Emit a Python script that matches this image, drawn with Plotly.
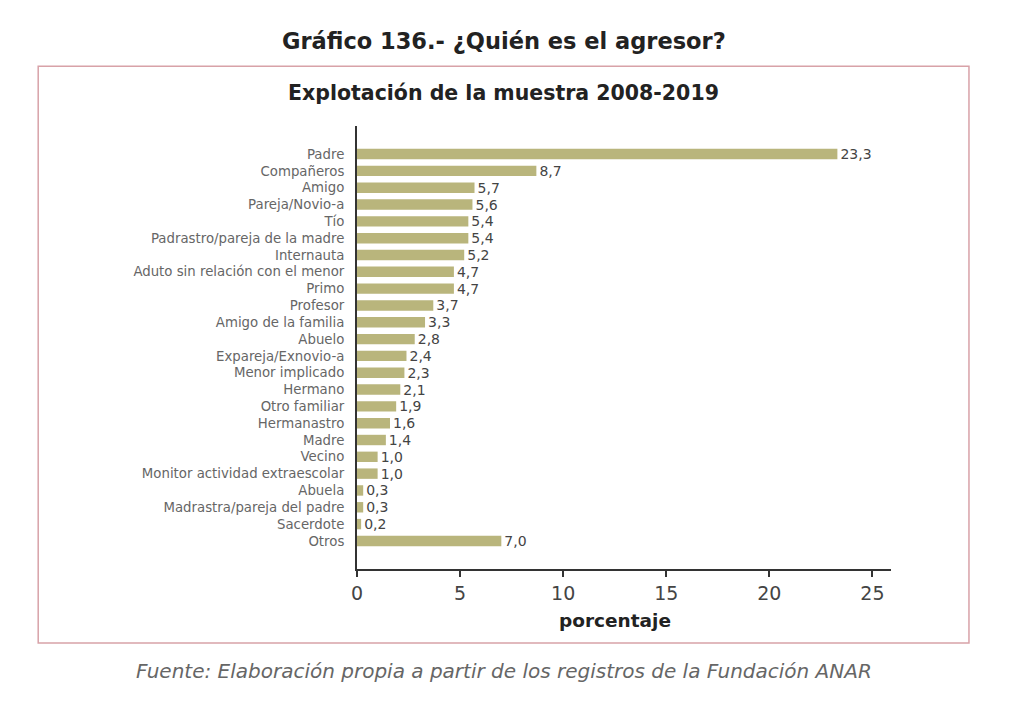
import plotly.graph_objects as go

categories = [
    "Padre", "Compañeros", "Amigo", "Pareja/Novio-a", "Tío",
    "Padrastro/pareja de la madre", "Internauta", "Aduto sin relación con el menor",
    "Primo", "Profesor", "Amigo de la familia", "Abuelo", "Expareja/Exnovio-a",
    "Menor implicado", "Hermano", "Otro familiar", "Hermanastro", "Madre",
    "Vecino", "Monitor actividad extraescolar", "Abuela",
    "Madrastra/pareja del padre", "Sacerdote", "Otros",
]
values = [23.3, 8.7, 5.7, 5.6, 5.4, 5.4, 5.2, 4.7, 4.7, 3.7, 3.3, 2.8, 2.4,
          2.3, 2.1, 1.9, 1.6, 1.4, 1.0, 1.0, 0.3, 0.3, 0.2, 7.0]
x_ticks = [0, 5, 10, 15, 20, 25]

title = "Gráfico 136.- ¿Quién es el agresor?"
subtitle = "Explotación de la muestra 2008-2019"
x_title = "porcentaje"
source = "Fuente: Elaboración propia a partir de los registros de la Fundación ANAR"

BAR = "#b9b57c"
FONT = "'DejaVu Sans', sans-serif"

fig = go.Figure(go.Bar(
    x=values, y=categories, orientation="h",
    marker=dict(color=BAR, line=dict(width=0)),
    width=0.62,
    texttemplate="%{x:.1f}", textposition="outside", constraintext="none",
    textfont=dict(family=FONT, size=14, color="#444444"),
    cliponaxis=False,
    hoverinfo="skip",
))

fig.update_layout(
    width=1024, height=707,
    margin=dict(l=349, r=141, t=118, b=146),
    paper_bgcolor="white", plot_bgcolor="white",
    separators=",.",
    showlegend=False,
    font=dict(family=FONT),
    xaxis=dict(
        range=[0, 25.9], tickvals=x_ticks, ticks="outside", ticklen=6,
        tickwidth=1.5, tickcolor="#333333",
        showline=True, linecolor="#333333", linewidth=2,
        showgrid=False, zeroline=False,
        tickfont=dict(family=FONT, size=19, color="#444444"),
    ),
    yaxis=dict(
        categoryorder="array", categoryarray=categories,
        range=[24.67, -1.67],
        showline=True, linecolor="#333333", linewidth=2,
        showgrid=False, zeroline=False, ticks="", ticklabelstandoff=8,
        tickfont=dict(family=FONT, size=13.3, color="#666666"),
    ),
    shapes=[dict(
        type="rect", xref="paper", yref="paper",
        x0=-0.597, x1=1.146, y0=-0.167, y1=1.135,
        line=dict(color="#d8a2a8", width=1.5), fillcolor="rgba(0,0,0,0)",
        layer="below",
    )],
    annotations=[
        dict(text=f"<b>{title}</b>", xref="paper", yref="paper",
             x=0.275, y=1.192, showarrow=False, xanchor="center", yanchor="middle",
             font=dict(family=FONT, size=22.5, color="#222222")),
        dict(text=f"<b>{subtitle}</b>", xref="paper", yref="paper",
             x=0.275, y=1.0745, showarrow=False, xanchor="center", yanchor="middle",
             font=dict(family=FONT, size=20.5, color="#222222")),
        dict(text=f"<b>{x_title}</b>", xref="paper", yref="paper",
             x=0.483, y=-0.117, showarrow=False, xanchor="center", yanchor="middle",
             font=dict(family=FONT, size=18.5, color="#222222")),
        dict(text=source, xref="paper", yref="paper",
             x=0.275, y=-0.230, showarrow=False, xanchor="center", yanchor="middle",
             font=dict(family=FONT, size=20, color="#666666", style="italic")),
    ],
)

fig.write_html("out.html")
